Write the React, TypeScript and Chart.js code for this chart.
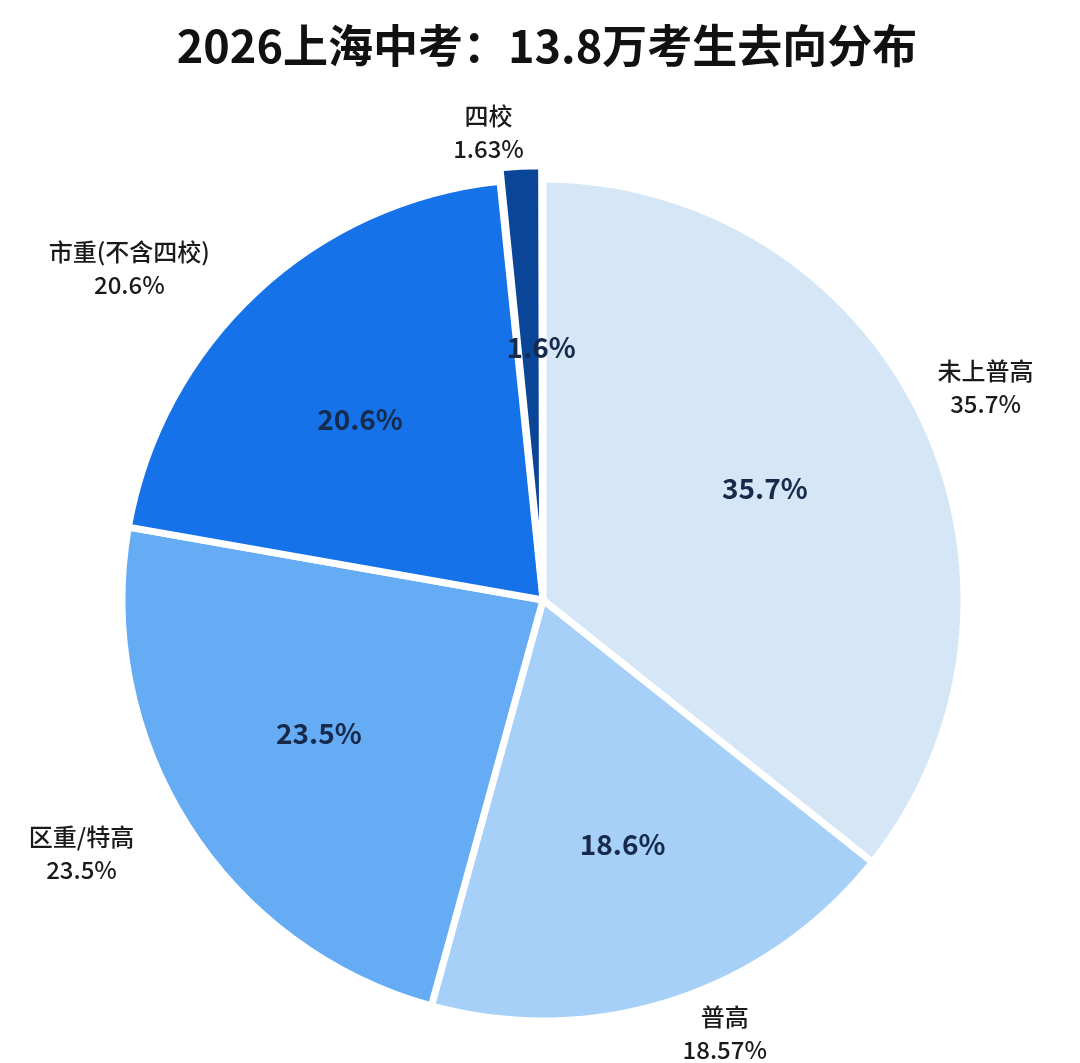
import { useEffect, useRef } from "react";
import { Chart, ArcElement, PieController, ChartConfiguration, Plugin } from "chart.js";

Chart.register(ArcElement, PieController);

// 2026 上海中考 13.8万考生去向
const categories = ["未上普高", "普高", "区重/特高", "市重(不含四校)", "四校"];
const shares = [35.7, 18.57, 23.5, 20.6, 1.63];
const sliceColors = ["#d5e7f7", "#a6d0f8", "#66acf4", "#1672e9", "#0b4597"];
const titleText = "2026上海中考：13.8万考生去向分布";

const FONT = '"Noto Sans CJK SC", "Noto Sans", sans-serif';

// label placement relative to each arc's mid angle (degrees) and radius
const outerNudge = [0, -4.7, 3.6, -8.3, -3.7];
const outerDist = [1.167, 1.116, 1.25, 1.26, 1.12];
const innerNudge = [-1, 0, 1.5, -2.5, 2.5];
const innerDist = [0.59, 0.61, 0.62, 0.61, 0.6];

const labelPlugin: Plugin<"pie"> = {
  id: "sliceLabels",
  afterDatasetsDraw(chart) {
    const ctx = chart.ctx;
    const meta = chart.getDatasetMeta(0);
    ctx.save();
    ctx.textAlign = "center";
    ctx.textBaseline = "middle";
    meta.data.forEach((el, i) => {
      const { x, y, startAngle, endAngle, outerRadius } = (el as ArcElement).getProps(
        ["x", "y", "startAngle", "endAngle", "outerRadius"],
        true
      );
      const mid = (startAngle + endAngle) / 2;

      const a1 = mid + (innerNudge[i] * Math.PI) / 180;
      const r1 = outerRadius * innerDist[i];
      ctx.fillStyle = "#172a4b";
      ctx.font = `bold 28px ${FONT}`;
      ctx.fillText(shares[i].toFixed(1) + "%", x + Math.cos(a1) * r1, y + Math.sin(a1) * r1);

      const a2 = mid + (outerNudge[i] * Math.PI) / 180;
      const r2 = outerRadius * outerDist[i];
      const lx = x + Math.cos(a2) * r2;
      const ly = y + Math.sin(a2) * r2;
      ctx.fillStyle = "#1a1a1a";
      ctx.font = `500 24px ${FONT}`;
      ctx.fillText(categories[i], lx, ly - 16);
      ctx.fillText(String(shares[i]) + "%", lx, ly + 17);
    });

    ctx.fillStyle = "#111";
    ctx.font = `bold 45px ${FONT}`;
    ctx.fillText(titleText, 547, 46);
    ctx.restore();
  },
};

export default function App() {
  const canvasRef = useRef<HTMLCanvasElement | null>(null);
  const chartRef = useRef<Chart<"pie"> | null>(null);

  useEffect(() => {
    const canvas = canvasRef.current;
    if (!canvas) return;
    const ctx = canvas.getContext("2d");
    if (!ctx) return;

    if (chartRef.current) chartRef.current.destroy();

    const config: ChartConfiguration<"pie", number[], string> = {
      type: "pie",
      data: {
        labels: categories,
        datasets: [
          {
            data: shares,
            backgroundColor: sliceColors,
            borderColor: "#ffffff",
            borderWidth: 7,
            offset: [0, 0, 0, 0, 28],
            clip: false,
          },
        ],
      },
      options: {
        responsive: false,
        animation: false,
        radius: 421,
        layout: { padding: { top: 137, left: 6, right: 0, bottom: 0 } },
        plugins: {
          legend: { display: false },
          tooltip: { enabled: false },
        },
        events: [],
      },
      plugins: [labelPlugin],
    };

    chartRef.current = new Chart(ctx, config);

    return () => {
      if (chartRef.current) {
        chartRef.current.destroy();
        chartRef.current = null;
      }
    };
  }, []);

  return (
    <div style={{ position: "absolute", left: 0, top: 0, width: 1080, height: 1063, background: "#fff" }}>
      <canvas ref={canvasRef} width={1080} height={1063} />
    </div>
  );
}
